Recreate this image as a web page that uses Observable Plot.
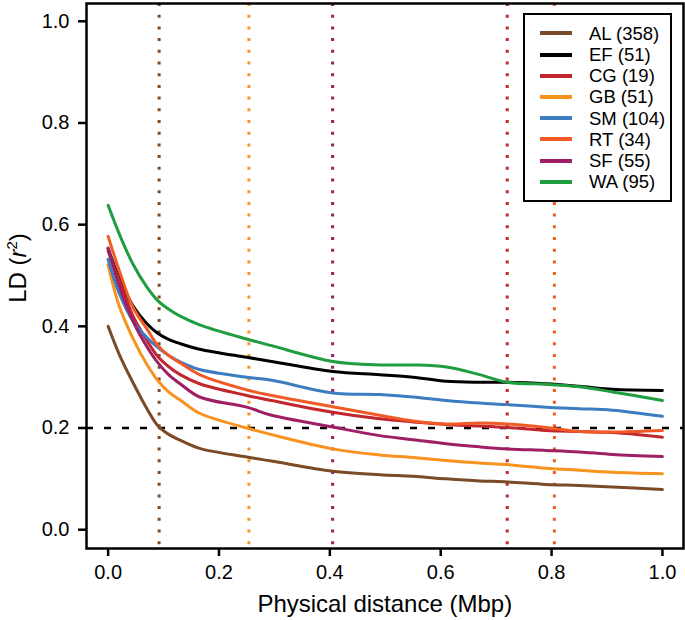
<!DOCTYPE html>
<html>
<head>
<meta charset="utf-8">
<script src="https://cdn.jsdelivr.net/npm/d3@7"></script>
<script src="https://cdn.jsdelivr.net/npm/@observablehq/plot@0.6"></script>
<style>
  body { margin: 0; background: #fff; }
  #wrap { position: relative; width: 685px; height: 620px; font-family: "Liberation Sans", Arial, sans-serif; }
  #legend { position: absolute; left: 523px; top: 13px; width: 145px; height: 185px; border: 2px solid #000; background: #fff; }
  .row { position: absolute; left: 0; width: 145px; height: 21px; }
  .sw { position: absolute; left: 15px; top: 8.5px; width: 32px; height: 4px; }
  .lab { position: absolute; left: 64px; top: 0; line-height: 21px; font-size: 18.5px; white-space: nowrap; color: #000; }
</style>
</head>
<body>
<div id="wrap"></div>
<script>
// ---- data ----
const xs = [0, 0.02, 0.045, 0.07, 0.09, 0.11, 0.13, 0.165, 0.25, 0.295, 0.405, 0.49, 0.55, 0.61, 0.67, 0.72, 0.79, 0.85, 0.91, 1.0];

const AL = [0.400, 0.345, 0.289, 0.238, 0.204, 0.187, 0.176, 0.160, 0.143, 0.135, 0.115, 0.108, 0.105, 0.100, 0.096, 0.094, 0.089, 0.087, 0.084, 0.079];
const EF = [0.553, 0.495, 0.440, 0.405, 0.386, 0.374, 0.366, 0.355, 0.339, 0.331, 0.311, 0.305, 0.300, 0.292, 0.290, 0.290, 0.287, 0.282, 0.276, 0.274];
const CG = [0.548, 0.490, 0.420, 0.372, 0.340, 0.320, 0.305, 0.287, 0.264, 0.254, 0.231, 0.218, 0.212, 0.207, 0.204, 0.201, 0.195, 0.193, 0.191, 0.182];
const GB = [0.521, 0.440, 0.376, 0.325, 0.293, 0.270, 0.255, 0.229, 0.200, 0.187, 0.159, 0.147, 0.142, 0.136, 0.131, 0.128, 0.121, 0.117, 0.113, 0.110];
const SM = [0.532, 0.465, 0.410, 0.378, 0.358, 0.342, 0.330, 0.315, 0.300, 0.294, 0.269, 0.266, 0.261, 0.254, 0.249, 0.246, 0.241, 0.238, 0.235, 0.223];
const RT = [0.577, 0.510, 0.437, 0.395, 0.362, 0.342, 0.328, 0.305, 0.275, 0.264, 0.242, 0.225, 0.214, 0.208, 0.210, 0.208, 0.201, 0.193, 0.192, 0.195];
const SF = [0.554, 0.480, 0.410, 0.360, 0.328, 0.304, 0.287, 0.261, 0.241, 0.225, 0.202, 0.185, 0.177, 0.169, 0.163, 0.159, 0.156, 0.153, 0.148, 0.144];
const WA = [0.638, 0.582, 0.522, 0.477, 0.450, 0.433, 0.420, 0.403, 0.375, 0.362, 0.331, 0.324, 0.324, 0.320, 0.305, 0.290, 0.286, 0.281, 0.271, 0.254];

const pops = ["AL", "EF", "CG", "GB", "SM", "RT", "SF", "WA"];
const sizes = [358, 51, 19, 51, 104, 34, 55, 95];
const seriesValues = [AL, EF, CG, GB, SM, RT, SF, WA];
const colors = ["#7b4b27", "#000000", "#c1272d", "#f7931e", "#3b7dc0", "#f15a24", "#9e1f63", "#1f9d3f"];

// distance at which LD decays to the threshold
const threshold = 0.2;
const decayPops = ["AL", "GB", "SF", "CG", "RT"];
const decayDist = [0.092, 0.254, 0.405, 0.72, 0.805];

const yTicks = [0, 0.2, 0.4, 0.6, 0.8, 1.0];
const xTicks = [0, 0.2, 0.4, 0.6, 0.8, 1.0];

// ---- build tables ----
const rows = [];
pops.forEach((p, i) => xs.forEach((x, j) => rows.push({pop: p, x, r2: seriesValues[i][j]})));
const decayRows = decayPops.map((p, i) => ({pop: p, x: decayDist[i]}));

const fmt = d3.format(".1f");

const plot = Plot.plot({
  width: 685,
  height: 620,
  marginLeft: 86,
  marginRight: 2,
  marginTop: 3,
  marginBottom: 72,
  style: {fontFamily: "'Liberation Sans', Arial, sans-serif", fontSize: "20px", background: "white", color: "black", overflow: "visible"},
  x: {domain: [-0.039, 1.038]},
  y: {domain: [-0.037, 1.035]},
  color: {domain: pops, range: colors},
  marks: [
    Plot.ruleX(decayRows, {x: "x", stroke: "pop", strokeWidth: 3, strokeDasharray: "3,8.7"}),
    Plot.ruleY([threshold], {stroke: "black", strokeWidth: 2.5, strokeDasharray: "7,11"}),
    Plot.line(rows, {x: "x", y: "r2", z: "pop", stroke: "pop", strokeWidth: 3, curve: "catmull-rom"}),
    Plot.frame({stroke: "black", strokeWidth: 2.5}),
    Plot.axisX({ticks: xTicks, tickFormat: fmt, tickSize: 8, tickPadding: 8, strokeWidth: 2.5, fontSize: 20, label: null}),
    Plot.axisY({ticks: yTicks, tickFormat: fmt, tickSize: 8, tickPadding: 9, strokeWidth: 2.5, fontSize: 20, label: null})
  ]
});

const wrap = document.getElementById("wrap");
wrap.appendChild(plot);

// axis titles
const svg = d3.select(plot);
const xs0 = plot.scale("x");
svg.append("text")
  .attr("x", (xs0.apply(0) + xs0.apply(1)) / 2)
  .attr("y", 612)
  .attr("text-anchor", "middle")
  .attr("font-size", 24)
  .attr("fill", "black")
  .text("Physical distance (Mbp)");

const yl = svg.append("text")
  .attr("transform", "translate(26,268) rotate(-90)")
  .attr("text-anchor", "middle")
  .attr("font-size", 24)
  .attr("fill", "black");
yl.append("tspan").text("LD (");
yl.append("tspan").attr("font-style", "italic").text("r");
yl.append("tspan").attr("font-size", 15).attr("dy", -9).text("2");
yl.append("tspan").attr("dy", 9).text(")");

// legend
const legend = document.createElement("div");
legend.id = "legend";
pops.forEach((p, i) => {
  const row = document.createElement("div");
  row.className = "row";
  row.style.top = (18.3 + i * 21.2 - 10.5) + "px";
  const sw = document.createElement("div");
  sw.className = "sw";
  sw.style.background = colors[i];
  const lab = document.createElement("div");
  lab.className = "lab";
  lab.textContent = `${p} (${sizes[i]})`;
  row.appendChild(sw);
  row.appendChild(lab);
  legend.appendChild(row);
});
wrap.appendChild(legend);
</script>
</body>
</html>
